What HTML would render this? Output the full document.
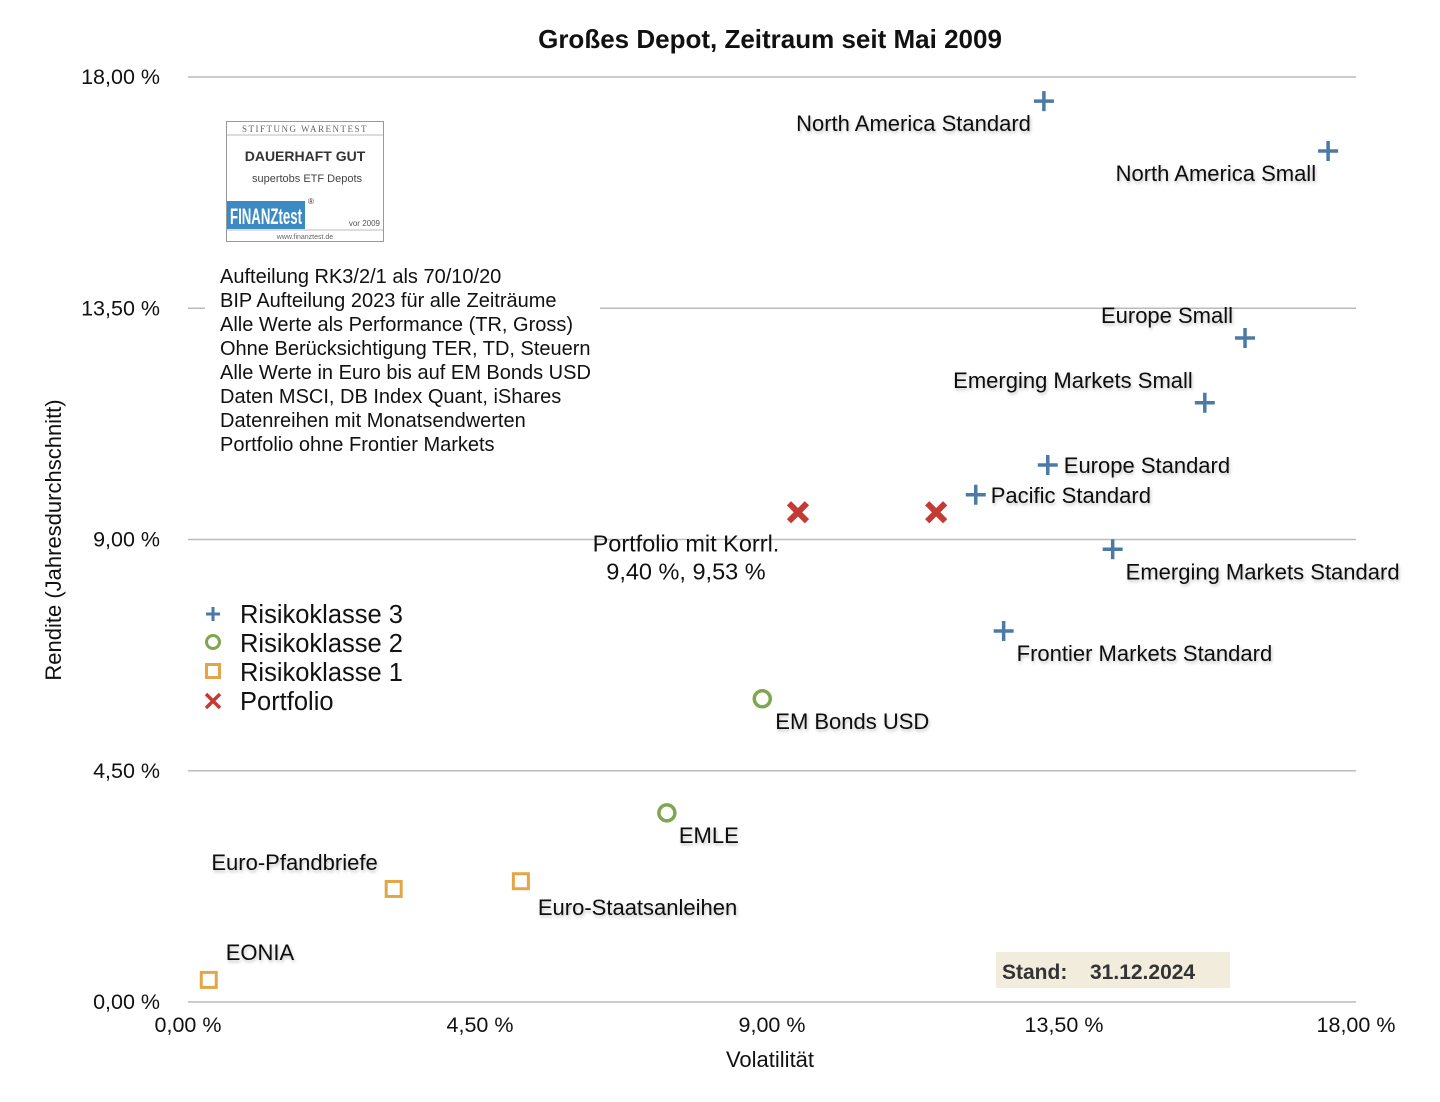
<!DOCTYPE html>
<html><head><meta charset="utf-8">
<style>
html,body{margin:0;padding:0;background:#fff;}
svg{display:block;font-family:"Liberation Sans",sans-serif;}
.lbl{font-size:22px;fill:#111;filter:url(#sh);}
</style></head>
<body>
<svg id="chart" width="1440" height="1102" viewBox="0 0 1440 1102">
<defs><filter id="sh" x="-10%" y="-30%" width="120%" height="160%"><feDropShadow dx="1" dy="2" stdDeviation="1.5" flood-color="#000" flood-opacity="0.25"/></filter></defs>
<text x="770" y="48" text-anchor="middle" font-size="26" font-weight="bold" fill="#111">Großes Depot, Zeitraum seit Mai 2009</text>
<g id="grid"></g>
<g id="ticks"></g>
<text x="770" y="1067" text-anchor="middle" font-size="22" fill="#111">Volatilität</text>
<text transform="translate(61,540) rotate(-90)" text-anchor="middle" font-size="22" fill="#111">Rendite (Jahresdurchschnitt)</text>
<rect x="205" y="110" width="395" height="360" fill="#fff"/>
<g>
<rect x="226.5" y="121.5" width="157" height="120" fill="#fff" stroke="#999"/>
<text x="305" y="132" text-anchor="middle" font-size="9" fill="#666" font-family="Liberation Serif,serif" letter-spacing="1.5">STIFTUNG WARENTEST</text>
<line x1="227" y1="135" x2="383" y2="135" stroke="#bbb"/>
<text x="305" y="161" text-anchor="middle" font-size="14" fill="#333" font-weight="bold">DAUERHAFT GUT</text>
<text x="307" y="182" text-anchor="middle" font-size="11" fill="#444">supertobs ETF Depots</text>
<rect x="227" y="201" width="78" height="28" fill="#3b8ac4"/>
<text x="230" y="224" font-size="22" fill="#fff" font-weight="bold" textLength="72" lengthAdjust="spacingAndGlyphs">FINANZtest</text>
<text x="308" y="204" font-size="8" fill="#333">®</text>
<text x="380" y="226" text-anchor="end" font-size="8" fill="#555">vor 2009</text>
<line x1="227" y1="230" x2="383" y2="230" stroke="#bbb"/>
<text x="305" y="239" text-anchor="middle" font-size="7" fill="#666">www.finanztest.de</text>
</g>
<g font-size="20" fill="#111">
<text x="220" y="283">Aufteilung RK3/2/1 als 70/10/20</text>
<text x="220" y="307">BIP Aufteilung 2023 für alle Zeiträume</text>
<text x="220" y="331">Alle Werte als Performance (TR, Gross)</text>
<text x="220" y="355">Ohne Berücksichtigung TER, TD, Steuern</text>
<text x="220" y="379">Alle Werte in Euro bis auf EM Bonds USD</text>
<text x="220" y="403">Daten MSCI, DB Index Quant, iShares</text>
<text x="220" y="427">Datenreihen mit Monatsendwerten</text>
<text x="220" y="451">Portfolio ohne Frontier Markets</text>
</g>
<g id="marks"></g>
<g font-size="25.5" fill="#111">
<g><path d="M206 614h14M213 607v14" stroke="#4a7aa6" stroke-width="3"/><text x="240" y="623">Risikoklasse 3</text></g>
<g><circle cx="213" cy="642" r="6.5" fill="none" stroke="#7fa650" stroke-width="3"/><text x="240" y="652">Risikoklasse 2</text></g>
<g><rect x="206.5" y="664.5" width="13" height="13" fill="none" stroke="#e3a548" stroke-width="3"/><text x="240" y="681">Risikoklasse 1</text></g>
<g><path d="M206 694l14 14M220 694l-14 14" stroke="#c43b36" stroke-width="3.5"/><text x="240" y="710">Portfolio</text></g>
</g>
<rect x="996" y="952" width="234" height="36" fill="#f1ecdc"/>
<text x="1002" y="979" font-size="21" font-weight="bold" fill="#333">Stand:</text>
<text x="1090" y="979" font-size="21" font-weight="bold" fill="#333">31.12.2024</text>
</svg>
<script>
const xTicks=[0,4.5,9,13.5,18];
const yTicks=[0,4.5,9,13.5,18];
const tickLabels=["0,00 %","4,50 %","9,00 %","13,50 %","18,00 %"];
const names=["North America Standard","North America Small","Europe Small","Emerging Markets Small","Europe Standard","Pacific Standard","Emerging Markets Standard","Frontier Markets Standard","EM Bonds USD","EMLE","Euro-Staatsanleihen","Euro-Pfandbriefe","EONIA","Portfolio","Portfolio mit Korrl."];
const vols=[13.19,17.57,16.29,15.67,13.25,12.14,14.25,12.57,8.85,7.38,5.13,3.17,0.32,11.53,9.40];
const rets=[17.53,16.56,12.92,11.66,10.45,9.87,8.81,7.22,5.90,3.68,2.35,2.20,0.43,9.53,9.53];
const classes=[3,3,3,3,3,3,3,3,2,2,1,1,1,0,0];
const showLabel=[1,1,1,1,1,1,1,1,1,1,1,1,1,0,1];
const labelOffsets=[[-13,30,"end"],[-12,30,"end"],[-12,-15,"end"],[-12,-15,"end"],[16,8,"start"],[15,8,"start"],[13,30,"start"],[13,30,"start"],[13,30,"start"],[12,30,"start"],[17,34,"start"],[-16,-19,"end"],[17,-20,"start"],[0,0,"start"],[-18,38,"end"]];
const X=v=>188+v*(1356-188)/18, Y=v=>1002-v*(1002-77)/18;
const NS="http://www.w3.org/2000/svg";
function mk(t,a,p){const e=document.createElementNS(NS,t);for(const k in a)e.setAttribute(k,a[k]);p.appendChild(e);return e;}
const grid=document.getElementById('grid'),ticks=document.getElementById('ticks'),marks=document.getElementById('marks');
yTicks.forEach((v,i)=>{const l=mk('line',{x1:188,x2:1356,y1:Y(v),y2:Y(v),stroke:'#bbb','stroke-width':1.5},grid);


const t=mk('text',{x:160,y:Y(v)+7,'text-anchor':'end','font-size':21.5,fill:'#111'},ticks);t.textContent=tickLabels[i];

});
xTicks.forEach((v,i)=>{const t=mk('text',{x:X(v),y:1032,'text-anchor':'middle','font-size':21.5,fill:'#111'},ticks);t.textContent=tickLabels[i];

});
names.forEach((n,i)=>{const cx=X(vols[i]),cy=Y(rets[i]);const g=mk('g',{},marks);


const c=classes[i];
if(c===3)mk('path',{d:`M${cx-10} ${cy}h20M${cx} ${cy-10}v20`,stroke:'#4a7aa6','stroke-width':3.5},g);
else if(c===2)mk('circle',{cx,cy,r:8,fill:'none',stroke:'#7fa650','stroke-width':3.5},g);
else if(c===1)mk('rect',{x:cx-7.5,y:cy-7.5,width:15,height:15,fill:'none',stroke:'#e3a548','stroke-width':3},g);
else mk('path',{d:`M${cx-9} ${cy-9}l18 18M${cx+9} ${cy-9}l-18 18`,stroke:'#c43b36','stroke-width':6},g);
if(showLabel[i]){const o=labelOffsets[i];
if(c===0){const t=mk('text',{x:cx-112,y:cy+39,'text-anchor':'middle','font-size':23.5,fill:'#111'},g);t.textContent=n;
const t2=mk('text',{x:cx-112,y:cy+67,'text-anchor':'middle','font-size':23.5,fill:'#111'},g);t2.textContent=vols[i].toFixed(2).replace('.',',')+' %, '+rets[i].toFixed(2).replace('.',',')+' %';}
else{const t=mk('text',{x:cx+o[0],y:cy+o[1],'text-anchor':o[2],class:'lbl'},g);t.textContent=n;}}
});
</script>
</body></html>
